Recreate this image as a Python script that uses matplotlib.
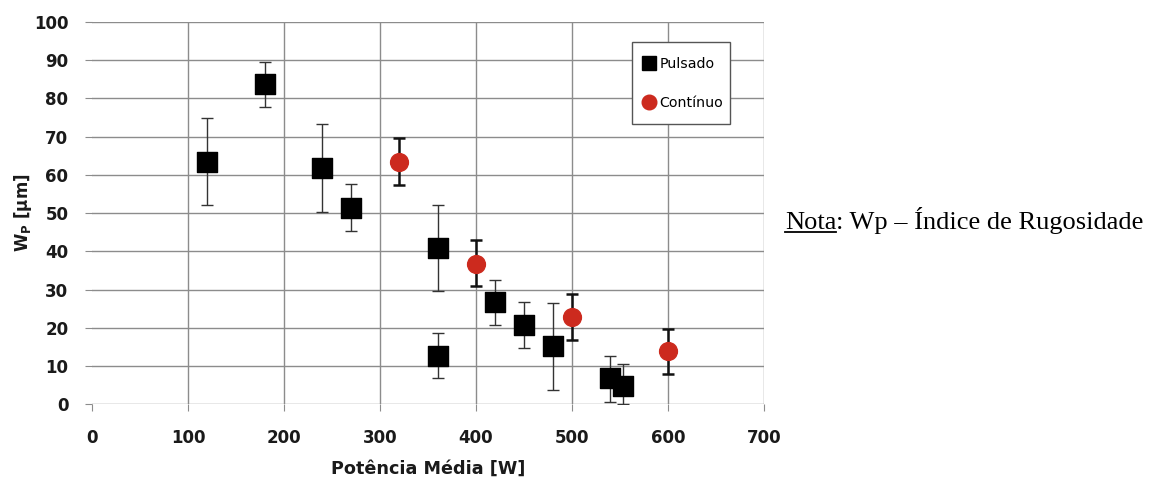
import matplotlib
matplotlib.use('Agg')
import matplotlib.pyplot as plt
from matplotlib.lines import Line2D
from matplotlib.patches import Rectangle

# dados - Pulsado
pulsado_x = [120, 180, 240, 270, 360, 360, 420, 450, 480, 540, 553]
pulsado_y = [63.5, 83.7, 61.7, 51.3, 40.8, 12.6, 26.8, 20.7, 15.2, 6.9, 4.8]
pulsado_sup = [75.0, 89.6, 73.2, 57.5, 52.1, 18.7, 32.5, 26.7, 26.4, 12.6, 10.6]
pulsado_inf = [52.2, 77.7, 50.4, 45.4, 29.6, 6.9, 20.7, 14.8, 3.8, 0.6, 0.0]

# dados - Continuo
continuo_x = [320, 400, 500, 600]
continuo_y = [63.5, 36.8, 22.8, 13.9]
continuo_sup = [69.6, 43.0, 28.8, 19.8]
continuo_inf = [57.4, 30.8, 16.9, 8.0]

xticks = [0, 100, 200, 300, 400, 500, 600, 700]
yticks = [0, 10, 20, 30, 40, 50, 60, 70, 80, 90, 100]

fig = plt.figure(figsize=(11.52, 4.8), dpi=100)
ax = fig.add_axes([0.0799, 0.158, 0.5833, 0.796])

ax.set_xlim(0, 700)
ax.set_ylim(0, 100)
ax.set_xticks(xticks)
ax.set_yticks(yticks)
ax.grid(True, color='#8c8c8c', linewidth=1.0)
ax.xaxis.get_gridlines()[0].set_visible(False)  # sem linha em x=0
ax.set_axisbelow(True)
for s in ax.spines.values():
    s.set_visible(False)
ax.tick_params(axis='both', length=5, color='#8c8c8c', labelsize=12,
               labelcolor='#1a1a1a')
ax.tick_params(axis='x', pad=13)
ax.tick_params(axis='y', pad=12)
for lab in ax.get_xticklabels() + ax.get_yticklabels():
    lab.set_fontweight('bold')

# barras de erro
p_err = [[y - lo for y, lo in zip(pulsado_y, pulsado_inf)],
         [hi - y for y, hi in zip(pulsado_y, pulsado_sup)]]
c_err = [[y - lo for y, lo in zip(continuo_y, continuo_inf)],
         [hi - y for y, hi in zip(continuo_y, continuo_sup)]]

ax.errorbar(pulsado_x, pulsado_y, yerr=p_err, fmt='none', ecolor='#333333',
            elinewidth=1.0, capsize=4, capthick=1.0, zorder=3)
ax.errorbar(continuo_x, continuo_y, yerr=c_err, fmt='none', ecolor='#111111',
            elinewidth=1.8, capsize=4, capthick=1.8, zorder=3)

ax.scatter(pulsado_x, pulsado_y, marker='s', s=190, color='black', zorder=4)
ax.scatter(continuo_x, continuo_y, marker='o', s=165, color='#cc2a1e', zorder=4)

ax.set_xlabel('Potência Média [W]', fontsize=12.7, fontweight='bold',
              color='#1a1a1a', labelpad=9)
ax.set_ylabel('W$_\\mathregular{P}$ [µm]', fontsize=12, fontweight='bold',
              color='#1a1a1a', labelpad=0)

# legenda: caixa desenhada a parte
ax.add_patch(Rectangle((0.803, 0.733), 0.146, 0.214, transform=ax.transAxes,
                       facecolor='white', edgecolor='#555555', linewidth=1.0,
                       zorder=5))
handles = [Line2D([], [], marker='s', color='black', linestyle='none', markersize=10),
           Line2D([], [], marker='o', color='#cc2a1e', linestyle='none', markersize=10.5)]
leg = ax.legend(handles, ['Pulsado', 'Contínuo'], loc='upper left',
                bbox_to_anchor=(0.818, 0.908), fontsize=10.2, frameon=False,
                handletextpad=0.25, handlelength=1.0, labelspacing=1.75,
                borderpad=0.0, borderaxespad=0.0)
leg.set_zorder(6)

# nota
fs = 19
ny = 1 - 229 / 480
t1 = fig.text(785 / 1152, ny, 'Nota', fontsize=fs,
              family='Liberation Serif', va='baseline')
fig.canvas.draw()
r = fig.canvas.get_renderer()
bb = t1.get_window_extent(r)
x_end = bb.x1 / fig.bbox.width
fig.text(x_end, ny, ': Wp – Índice de Rugosidade', fontsize=fs,
         family='Liberation Serif', va='baseline')
yl = ny - 3 / 480
fig.add_artist(Line2D([bb.x0 / fig.bbox.width, x_end], [yl, yl],
                      transform=fig.transFigure, color='black', linewidth=1.3))

fig.savefig('out.png', dpi=100)
